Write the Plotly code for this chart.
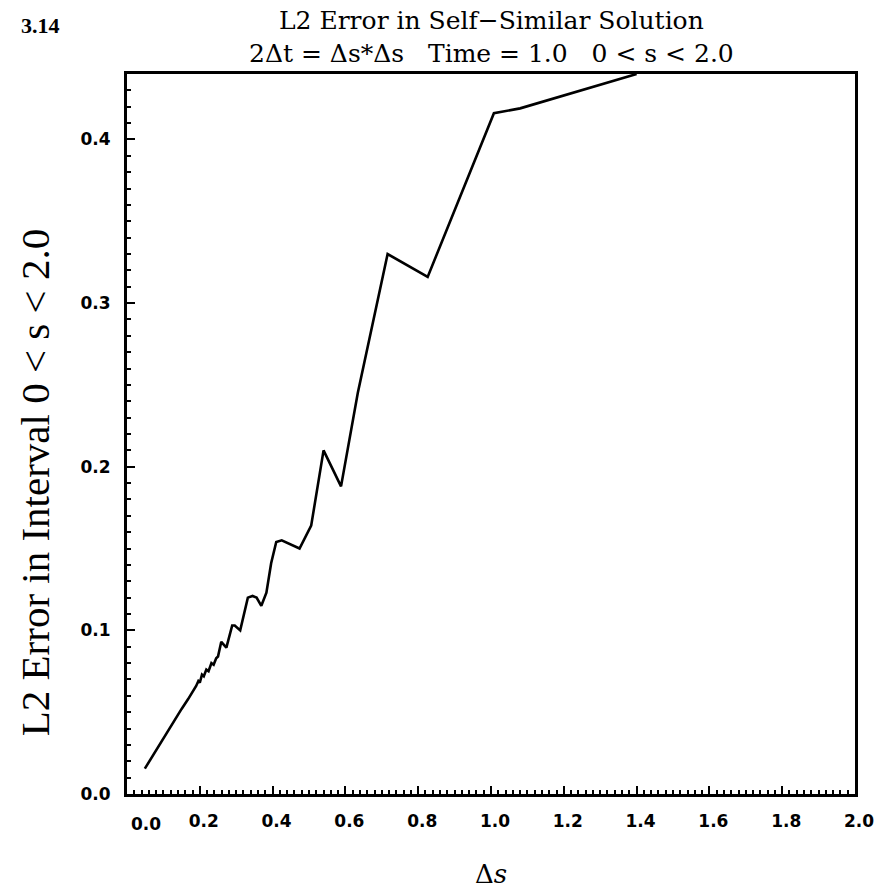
import plotly.graph_objects as go

# Mesh spacing Δs and the L2 error measured over 0 < s < 2.0
delta_s = [
    0.049, 0.070, 0.090, 0.110, 0.132, 0.150, 0.168, 0.180, 0.190, 0.196,
    0.200, 0.206, 0.211, 0.218, 0.224, 0.232, 0.238, 0.245, 0.250, 0.259,
    0.273, 0.289, 0.296, 0.311, 0.332, 0.345, 0.356, 0.369, 0.383, 0.396,
    0.410, 0.425, 0.474, 0.506, 0.540, 0.588, 0.634, 0.716, 0.826, 1.008,
    1.080, 1.400,
]
l2_error = [
    0.0155, 0.023, 0.031, 0.038, 0.046, 0.052, 0.058, 0.062, 0.066, 0.069,
    0.068, 0.073, 0.072, 0.076, 0.075, 0.080, 0.079, 0.083, 0.084, 0.093,
    0.0895, 0.103, 0.103, 0.100, 0.120, 0.121, 0.120, 0.115, 0.123, 0.141,
    0.154, 0.155, 0.150, 0.164, 0.210, 0.188, 0.245, 0.330, 0.316, 0.416,
    0.419, 0.440,
]

x_ticks = [0.0, 0.2, 0.4, 0.6, 0.8, 1.0, 1.2, 1.4, 1.6, 1.8, 2.0]
x_tick_text = ["", "0.2", "0.4", "0.6", "0.8", "1.0", "1.2", "1.4", "1.6", "1.8", "2.0"]
y_ticks = [0.0, 0.1, 0.2, 0.3, 0.4]
y_tick_text = ["0.0", "0.1", "0.2", "0.3", "0.4"]

title_lines = [
    "L2 Error in Self\u2212Similar Solution",
    "2\u0394t = \u0394s*\u0394s   Time = 1.0   0 < s < 2.0",
]

fig = go.Figure()
fig.add_trace(go.Scatter(
    x=delta_s, y=l2_error, mode="lines",
    line=dict(color="black", width=2.6),
    showlegend=False,
))

tick_font = dict(family="DejaVu Sans", size=17, color="black", weight="bold")
serif = "DejaVu Serif"

axis_common = dict(
    showgrid=False, zeroline=False,
    showline=True, linecolor="black", linewidth=3, mirror=True,
    ticks="inside", ticklen=8, tickwidth=2, tickcolor="black",
    tickfont=tick_font,
)

fig.update_xaxes(
    range=[0, 2.0], tickmode="array", tickvals=x_ticks, ticktext=x_tick_text,
    minor=dict(ticks="inside", ticklen=4, tickwidth=1.5, tickcolor="black", dtick=0.02),
    ticklabelstandoff=10, ticklabelshift=4,
    **axis_common,
)
fig.update_yaxes(
    range=[0, 0.44], tickmode="array", tickvals=y_ticks, ticktext=y_tick_text,
    minor=dict(ticks="inside", ticklen=4, tickwidth=1.5, tickcolor="black", dtick=0.01),
    ticklabelstandoff=10,
    **axis_common,
)

fig.update_layout(
    width=886, height=892,
    margin=dict(l=127, r=29, t=74, b=98),
    paper_bgcolor="white", plot_bgcolor="white",
    annotations=[
        dict(text="<br>".join(title_lines), x=0.5, y=1.051, xref="paper", yref="paper",
             xanchor="center", yanchor="middle", showarrow=False,
             font=dict(family=serif, size=25, color="black")),
        # first x tick label, set slightly right of the corner
        dict(text="0.0", x=0.0, y=0, xref="x", yref="paper",
             xanchor="center", yanchor="top", xshift=19, yshift=-18,
             showarrow=False, font=tick_font),
        dict(text="L2 Error in Interval 0 < s < 2.0", textangle=-90,
             x=-0.126, y=0.432, xref="paper", yref="paper",
             xanchor="center", yanchor="middle", showarrow=False,
             font=dict(family="Liberation Serif", size=41, color="black")),
        dict(text="\u0394<i>s</i>", x=0.5, y=-0.111, xref="paper", yref="paper",
             xanchor="center", yanchor="middle", showarrow=False,
             font=dict(family=serif, size=26, color="black")),
        dict(text="<b>3.14</b>", x=-0.119, y=1.068, xref="paper", yref="paper",
             xanchor="center", yanchor="middle", showarrow=False,
             font=dict(family="Liberation Serif", size=22, color="black")),
    ],
)

fig.write_html("out.html")
